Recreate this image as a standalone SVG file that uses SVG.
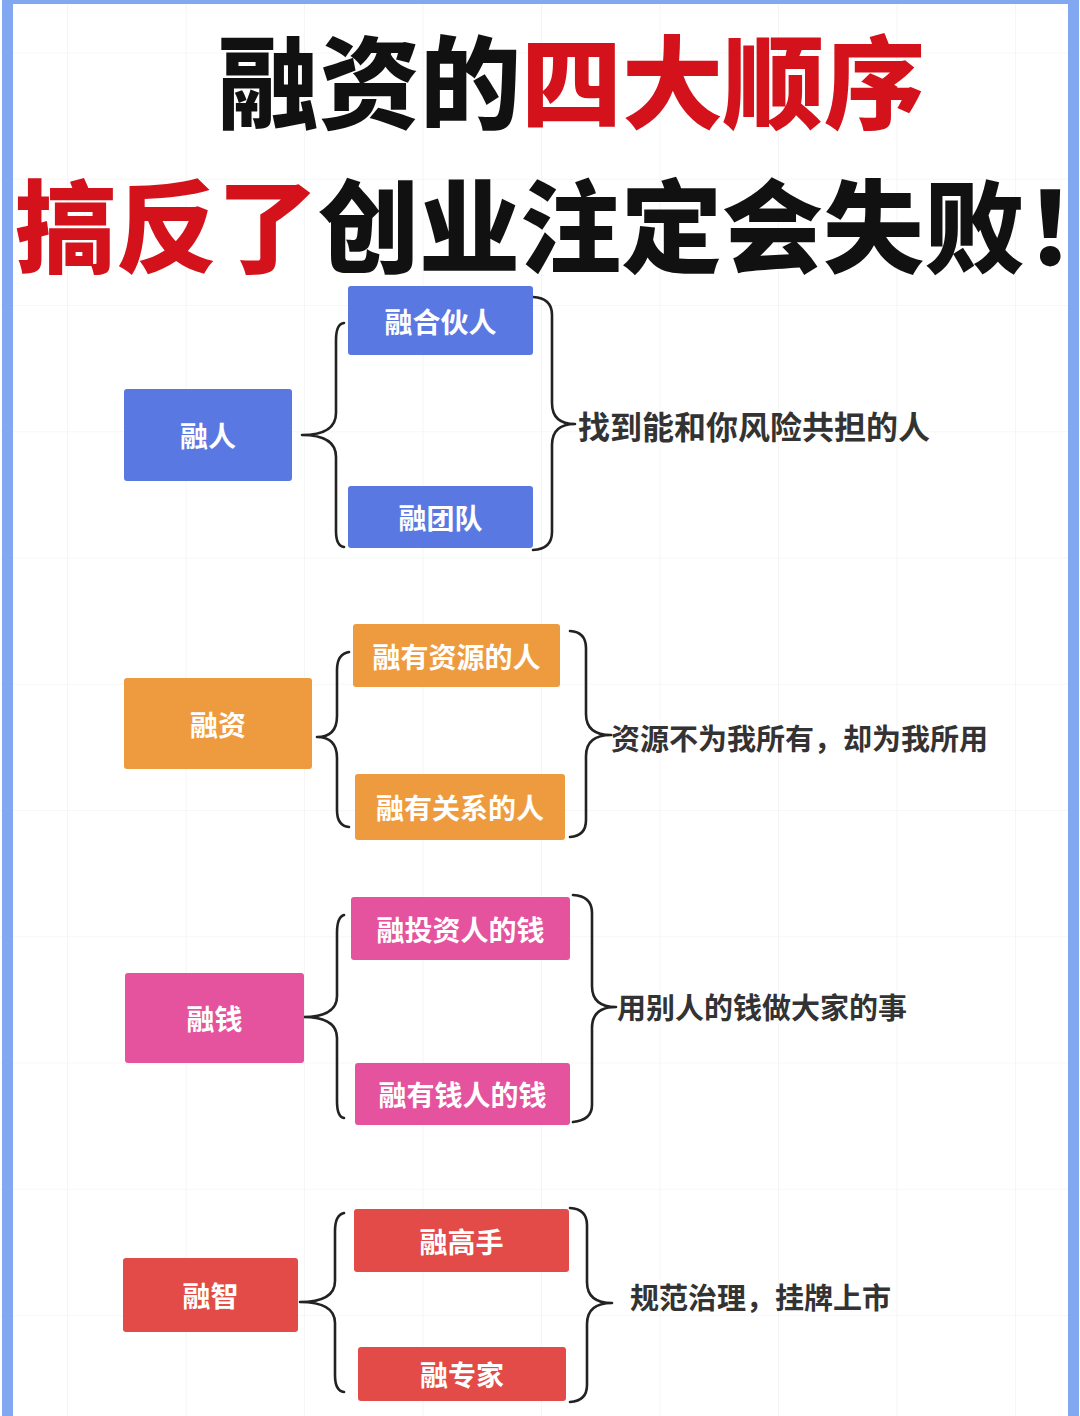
<svg xmlns="http://www.w3.org/2000/svg" width="1080" height="1416" viewBox="0 0 1080 1416">
<defs>
<pattern id="grid" x="67" y="305" width="118.5" height="126.25" patternUnits="userSpaceOnUse">
<path d="M0 0 H118.5 M0 0 V126.25" fill="none" stroke="#efefef" stroke-width="1.2"/>
</pattern>
<style>
.title{font-family:"Noto Sans CJK SC","Noto Sans CJK JP",sans-serif;font-weight:900;font-size:101px}
.blk{fill:#111111}
.red{fill:#d4121b}
.box text{font-family:"Noto Sans CJK SC","Noto Sans CJK JP",sans-serif;font-weight:700;font-size:28px;fill:#ffffff;text-anchor:middle;dominant-baseline:central}
.lbl{font-family:"Noto Sans CJK SC","Noto Sans CJK JP",sans-serif;font-weight:700;font-size:29px;fill:#333333;dominant-baseline:central}
.brace{fill:none;stroke:#222222;stroke-width:2.6;stroke-linecap:round;stroke-linejoin:round}
.blue rect{fill:#5a78e2}
.orange rect{fill:#ee9b3f}
.pink rect{fill:#e5529e}
.redb rect{fill:#e24b47}
</style>
</defs>
<rect x="0" y="0" width="1080" height="1416" fill="#ffffff"/>
<rect x="0" y="0" width="1080" height="1416" fill="url(#grid)"/>
<!-- border -->
<rect x="2" y="0" width="11" height="1416" fill="#82a8f2"/>
<rect x="1068" y="0" width="11" height="1416" fill="#82a8f2"/>
<rect x="2" y="0" width="1077" height="4" fill="#82a8f2"/>

<g id="title">
<text class="title" x="218" y="121"><tspan class="blk">融资的</tspan><tspan class="red">四大顺序</tspan></text>
<text class="title" x="15" y="265"><tspan class="red">搞反了</tspan><tspan class="blk">创业注定会失败</tspan><tspan class="blk" style="letter-spacing:-62px">！</tspan></text>
</g>

<g id="connectors">
<!-- group 1 -->
<path class="brace" d="M344 323 Q336 324 336 340 L336 413 Q336 435 302 435 Q336 435 336 457 L336 531 Q336 546 344 547"/>
<path class="brace" d="M533 297 Q552 298 552 315 L552 403 Q552 424 575 424 Q552 424 552 445 L552 532 Q552 549 533 550"/>
<!-- group 2 -->
<path class="brace" d="M349 652 Q337 654 337 670 L337 716 Q337 737 317 737 Q337 737 337 758 L337 810 Q337 826 349 827"/>
<path class="brace" d="M570 631 Q586 632 586 648 L586 714 Q586 735 611 735 Q586 735 586 756 L586 820 Q586 836 570 837"/>
<!-- group 3 -->
<path class="brace" d="M344 915 Q337 917 337 933 L337 996 Q337 1017 303 1017 Q337 1017 337 1038 L337 1101 Q337 1117 344 1118"/>
<path class="brace" d="M573 895 Q592 896 592 913 L592 986 Q592 1007 616 1007 Q592 1007 592 1028 L592 1105 Q592 1120 573 1122"/>
<!-- group 4 -->
<path class="brace" d="M344 1213 Q335 1215 335 1231 L335 1281 Q335 1302 300 1302 Q335 1302 335 1323 L335 1375 Q335 1391 344 1392"/>
<path class="brace" d="M570 1208 Q587 1209 587 1225 L587 1282 Q587 1303 612 1303 Q587 1303 587 1324 L587 1385 Q587 1401 570 1402"/>
</g>

<g id="n-rongren" class="box blue"><rect x="124" y="389" width="168" height="92" rx="3"/><text x="208" y="435">融人</text></g>
<g id="n-hehuoren" class="box blue"><rect x="348" y="286" width="185" height="69" rx="3"/><text x="440.5" y="320.5">融合伙人</text></g>
<g id="n-tuandui" class="box blue"><rect x="348" y="486" width="185" height="62" rx="3"/><text x="440.5" y="517">融团队</text></g>

<g id="n-rongzi" class="box orange"><rect x="124" y="678" width="188" height="91" rx="3"/><text x="218" y="723.5">融资</text></g>
<g id="n-ziyuan" class="box orange"><rect x="353" y="624" width="207" height="63" rx="3"/><text x="456.5" y="655.5">融有资源的人</text></g>
<g id="n-guanxi" class="box orange"><rect x="355" y="774" width="210" height="66" rx="3"/><text x="460" y="807">融有关系的人</text></g>

<g id="n-rongqian" class="box pink"><rect x="125" y="973" width="179" height="90" rx="3"/><text x="214.5" y="1018">融钱</text></g>
<g id="n-touziren" class="box pink"><rect x="351" y="897" width="219" height="63" rx="3"/><text x="460.5" y="928.5">融投资人的钱</text></g>
<g id="n-youqianren" class="box pink"><rect x="355" y="1063" width="215" height="62" rx="3"/><text x="462.5" y="1094">融有钱人的钱</text></g>

<g id="n-rongzhi" class="box redb"><rect x="123" y="1258" width="175" height="74" rx="3"/><text x="210.5" y="1295">融智</text></g>
<g id="n-gaoshou" class="box redb"><rect x="354" y="1209" width="215" height="63" rx="3"/><text x="461.5" y="1240.5">融高手</text></g>
<g id="n-zhuanjia" class="box redb"><rect x="358" y="1347" width="208" height="54" rx="3"/><text x="462" y="1374">融专家</text></g>

<g id="labels">
<text class="lbl" x="578" y="425" style="font-size:32px">找到能和你风险共担的人</text>
<text class="lbl" x="611" y="737">资源不为我所有，却为我所用</text>
<text class="lbl" x="617" y="1006">用别人的钱做大家的事</text>
<text class="lbl" x="630" y="1296">规范治理，挂牌上市</text>
</g>
</svg>
